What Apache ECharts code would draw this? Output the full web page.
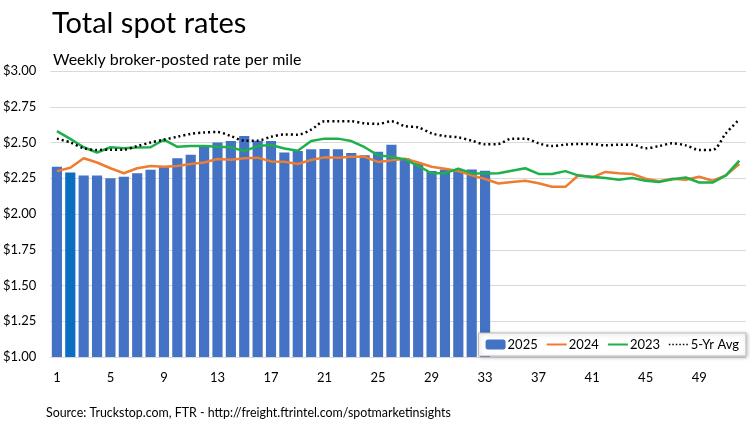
<!DOCTYPE html>
<html><head><meta charset="utf-8">
<script src="https://cdn.jsdelivr.net/npm/echarts@6/dist/echarts.min.js"></script>
<style>html,body{margin:0;padding:0;background:#fff}#c{width:750px;height:428px}</style>
</head><body><div id="c"></div>
<script>
const weeks = Array.from({length: 52}, (_, i) => String(i + 1));
const yTicks = [1.00, 1.25, 1.50, 1.75, 2.00, 2.25, 2.50, 2.75, 3.00];
const rates2025 = [2.33, 2.29, 2.27, 2.27, 2.25, 2.26, 2.285, 2.31, 2.33, 2.39, 2.415, 2.47, 2.50, 2.51, 2.545, 2.513, 2.51, 2.43, 2.44, 2.452, 2.455, 2.452, 2.427, 2.41, 2.436, 2.485, 2.39, 2.355, 2.30, 2.312, 2.308, 2.312, 2.303];
const rates2024 = [2.30, 2.324, 2.39, 2.36, 2.32, 2.285, 2.32, 2.336, 2.33, 2.336, 2.35, 2.36, 2.385, 2.38, 2.39, 2.394, 2.368, 2.365, 2.35, 2.378, 2.396, 2.394, 2.40, 2.40, 2.364, 2.375, 2.387, 2.36, 2.33, 2.317, 2.30, 2.27, 2.245, 2.213, 2.224, 2.233, 2.215, 2.19, 2.19, 2.273, 2.256, 2.294, 2.285, 2.28, 2.247, 2.23, 2.247, 2.24, 2.26, 2.233, 2.27, 2.35];
const rates2023 = [2.58, 2.525, 2.467, 2.43, 2.467, 2.46, 2.465, 2.467, 2.52, 2.47, 2.475, 2.475, 2.47, 2.467, 2.44, 2.475, 2.483, 2.458, 2.443, 2.51, 2.527, 2.527, 2.51, 2.467, 2.41, 2.40, 2.382, 2.336, 2.285, 2.285, 2.317, 2.285, 2.283, 2.285, 2.303, 2.32, 2.28, 2.28, 2.30, 2.268, 2.26, 2.252, 2.24, 2.252, 2.233, 2.224, 2.243, 2.255, 2.22, 2.22, 2.27, 2.373];
const avg5yr = [2.527, 2.50, 2.46, 2.448, 2.45, 2.45, 2.475, 2.50, 2.52, 2.54, 2.56, 2.57, 2.573, 2.545, 2.513, 2.513, 2.54, 2.556, 2.555, 2.59, 2.648, 2.648, 2.648, 2.634, 2.63, 2.648, 2.615, 2.606, 2.564, 2.545, 2.536, 2.513, 2.487, 2.49, 2.527, 2.527, 2.494, 2.475, 2.485, 2.49, 2.49, 2.48, 2.485, 2.485, 2.46, 2.475, 2.494, 2.48, 2.448, 2.448, 2.564, 2.662];
const highlightWeek = 2;

const FONT = 'Lato, "Open Sans", sans-serif';
const chart = echarts.init(document.getElementById('c'), null, {renderer: 'canvas'});
const barData = rates2025.map((v, i) => (i + 1 === highlightWeek)
  ? {value: v, itemStyle: {color: '#0A6FC2'}} : v);
const hideDot = {color: 'transparent', borderWidth: 0, opacity: 0};

chart.setOption({
  animation: false,
  textStyle: {fontFamily: FONT},
  title: [
    {text: 'Total spot rates', left: 47, top: 4, textStyle: {fontFamily: FONT, fontSize: 29, fontWeight: 'normal', color: '#000'}},
    {text: 'Weekly broker-posted rate per mile', left: 48, top: 47, textStyle: {fontFamily: FONT, fontSize: 16, fontWeight: 'normal', color: '#000'}},
    {text: 'Source: Truckstop.com, FTR - http://freight.ftrintel.com/spotmarketinsights', left: 41, top: 402, textStyle: {fontFamily: FONT, fontSize: 12.4, fontWeight: 'normal', color: '#000'}}
  ],
  legend: {
    right: 4, bottom: 72,
    padding: [5, 7], itemGap: 8, itemWidth: 20, itemHeight: 10,
    backgroundColor: '#fff', borderColor: '#bbb', borderWidth: 1,
    shadowColor: 'rgba(0,0,0,0.25)', shadowBlur: 4, shadowOffsetX: 1, shadowOffsetY: 1,
    textStyle: {fontFamily: FONT, fontSize: 13, color: '#000', padding: [0, 0, 0, -3]},
    data: [
      {name: '2025'},
      {name: '2024', itemStyle: hideDot},
      {name: '2023', itemStyle: hideDot},
      {name: '5-Yr Avg', itemStyle: hideDot, lineStyle: {width: 1.5, type: [1.5, 2]}}
    ]
  },
  grid: {left: 49, right: 4, top: 71, bottom: 71},
  xAxis: {
    type: 'category', data: weeks,
    axisLine: {show: false}, axisTick: {show: false},
    axisLabel: {interval: 3, margin: 14, fontFamily: FONT, fontSize: 13, color: '#000'}
  },
  yAxis: {
    type: 'value', min: yTicks[0], max: yTicks[yTicks.length - 1], interval: 0.25,
    axisLine: {show: false}, axisTick: {show: false},
    splitLine: {lineStyle: {color: '#d9d9d9', width: 1}},
    axisLabel: {margin: 14, fontFamily: FONT, fontSize: 13, color: '#000', formatter: v => '$' + v.toFixed(2)}
  },
  series: [
    {name: '2025', type: 'bar', data: barData, barCategoryGap: '24%', itemStyle: {color: '#4472C4'}, z: 2},
    {name: '2024', type: 'line', data: rates2024, symbol: 'none', lineStyle: {color: '#ED7D31', width: 2.5}, itemStyle: {color: '#ED7D31'}, z: 3},
    {name: '2023', type: 'line', data: rates2023, symbol: 'none', lineStyle: {color: '#1DB04B', width: 2.5}, itemStyle: {color: '#1DB04B'}, z: 4},
    {name: '5-Yr Avg', type: 'line', data: avg5yr, symbol: 'none', smooth: 0.3, lineStyle: {color: '#000', width: 2.5, type: [2, 3]}, itemStyle: {color: '#000'}, z: 5}
  ]
});
</script></body></html>
